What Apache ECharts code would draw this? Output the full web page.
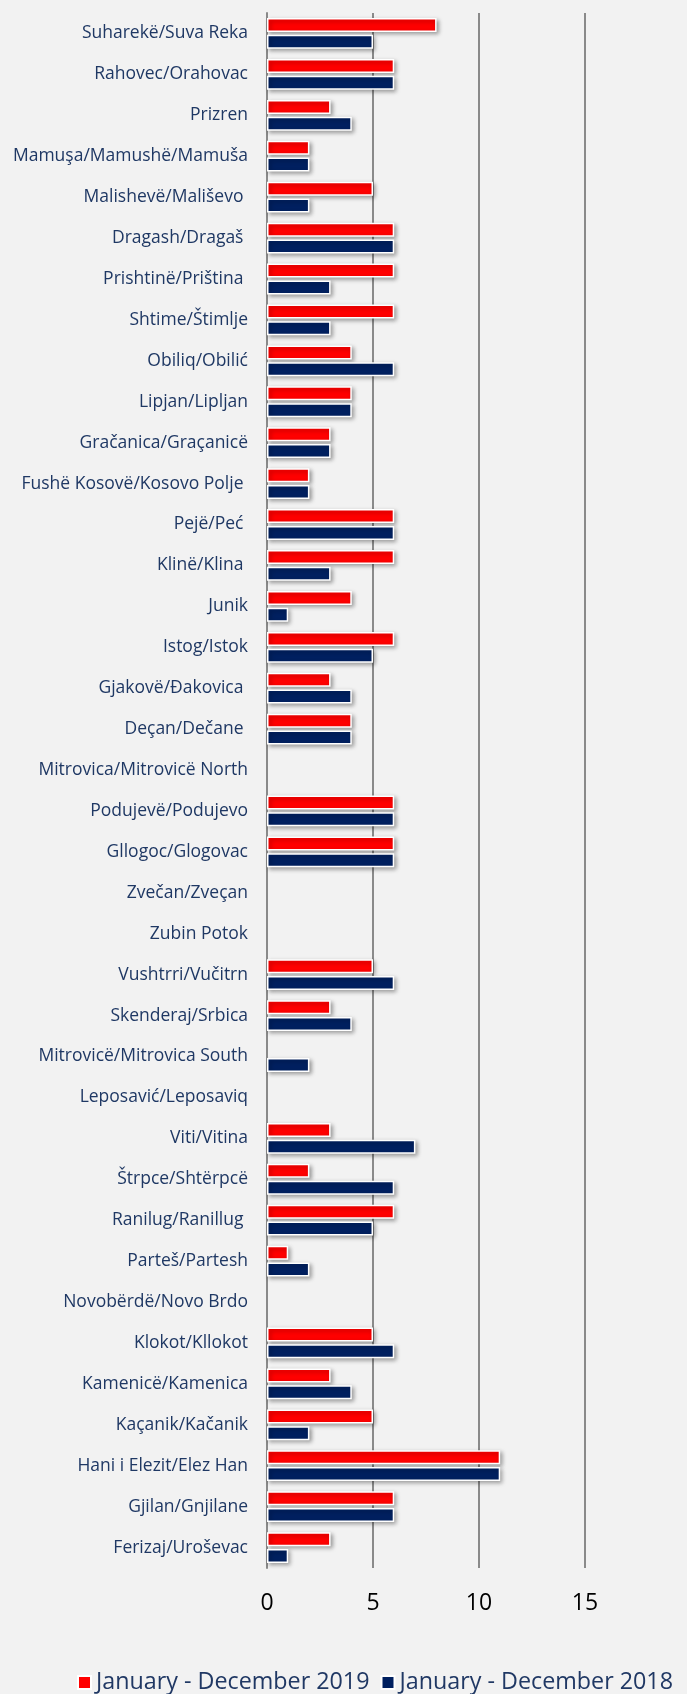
<!DOCTYPE html>
<html>
<head>
<meta charset="utf-8">
<script src="https://cdn.jsdelivr.net/npm/echarts@6/dist/echarts.min.js"></script>
<style>
  html, body { margin: 0; padding: 0; background: #f2f2f2; }
  #chart { width: 687px; height: 1694px; }
</style>
</head>
<body>
<div id="chart"></div>
<script>
// municipalities, top to bottom as in the report
const municipalities = [
  "Suharekë/Suva Reka", "Rahovec/Orahovac", "Prizren", "Mamuşa/Mamushë/Mamuša",
  "Malishevë/Mališevo ", "Dragash/Dragaš ", "Prishtinë/Priština ", "Shtime/Štimlje",
  "Obiliq/Obilić", "Lipjan/Lipljan", "Gračanica/Graçanicë", "Fushë Kosovë/Kosovo Polje ",
  "Pejë/Peć ", "Klinë/Klina ", "Junik", "Istog/Istok", "Gjakovë/Đakovica ",
  "Deçan/Dečane ", "Mitrovica/Mitrovicë North", "Podujevë/Podujevo", "Gllogoc/Glogovac",
  "Zvečan/Zveçan", "Zubin Potok", "Vushtrri/Vučitrn", "Skenderaj/Srbica",
  "Mitrovicë/Mitrovica South", "Leposavić/Leposaviq", "Viti/Vitina", "Štrpce/Shtërpcë",
  "Ranilug/Ranillug ", "Parteš/Partesh", "Novobërdë/Novo Brdo", "Klokot/Kllokot",
  "Kamenicë/Kamenica", "Kaçanik/Kačanik", "Hani i Elezit/Elez Han", "Gjilan/Gnjilane",
  "Ferizaj/Uroševac"
];
const cases2019 = [8, 6, 3, 2, 5, 6, 6, 6, 4, 4, 3, 2, 6, 6, 4, 6, 3, 4, null, 6, 6,
  null, null, 5, 3, null, null, 3, 2, 6, 1, null, 5, 3, 5, 11, 6, 3];
const cases2018 = [5, 6, 4, 2, 2, 6, 3, 3, 6, 4, 3, 2, 6, 3, 1, 5, 4, 4, null, 6, 6,
  null, null, 6, 4, 2, null, 7, 6, 5, 2, null, 6, 4, 2, 11, 6, 1];
const seriesNames = ["January - December 2019", "January - December 2018"];
const xTicks = { min: 0, max: 15, interval: 5 };

const barStyle = function (color) {
  return {
    color: color,
    borderColor: "#ffffff",
    borderWidth: 1.5,
    shadowColor: "rgba(0,0,0,0.35)",
    shadowBlur: 4,
    shadowOffsetX: 2,
    shadowOffsetY: 2
  };
};

let mychart = echarts.init(document.getElementById("chart"));
mychart.setOption({
  backgroundColor: "#f2f2f2",
  animation: false,
  textStyle: { fontFamily: "Open Sans" },
  legend: {
    bottom: -5,
    left: 72,
    width: 1000,
    itemWidth: 13,
    itemHeight: 13,
    itemGap: 11,
    icon: "rect",
    textStyle: { color: "#203864", fontSize: 23.3, fontFamily: "Open Sans" },
    data: seriesNames
  },
  grid: {
    left: 267,
    right: 102,
    top: 13,
    height: 1555,
    containLabel: false
  },
  xAxis: {
    type: "value",
    min: xTicks.min,
    max: xTicks.max,
    interval: xTicks.interval,
    axisLine: { show: false },
    axisTick: { show: false },
    axisLabel: { color: "#000", fontSize: 23, margin: 24, fontFamily: "Open Sans" },
    splitLine: { show: true, lineStyle: { color: "#8a8a8a", width: 2 } }
  },
  yAxis: {
    type: "category",
    inverse: true,
    data: municipalities,
    axisLine: { show: true, lineStyle: { color: "#8a8a8a", width: 2 } },
    axisTick: { show: false },
    axisLabel: { color: "#1f3864", fontSize: 17.5, margin: 19, fontFamily: "Open Sans" }
  },
  series: [
    {
      name: seriesNames[0],
      type: "bar",
      data: cases2019,
      barWidth: 14,
      barGap: "20%",
      itemStyle: barStyle("#ff0000")
    },
    {
      name: seriesNames[1],
      type: "bar",
      data: cases2018,
      barWidth: 14,
      barGap: "20%",
      itemStyle: barStyle("#002060")
    }
  ]
});
</script>
</body>
</html>
